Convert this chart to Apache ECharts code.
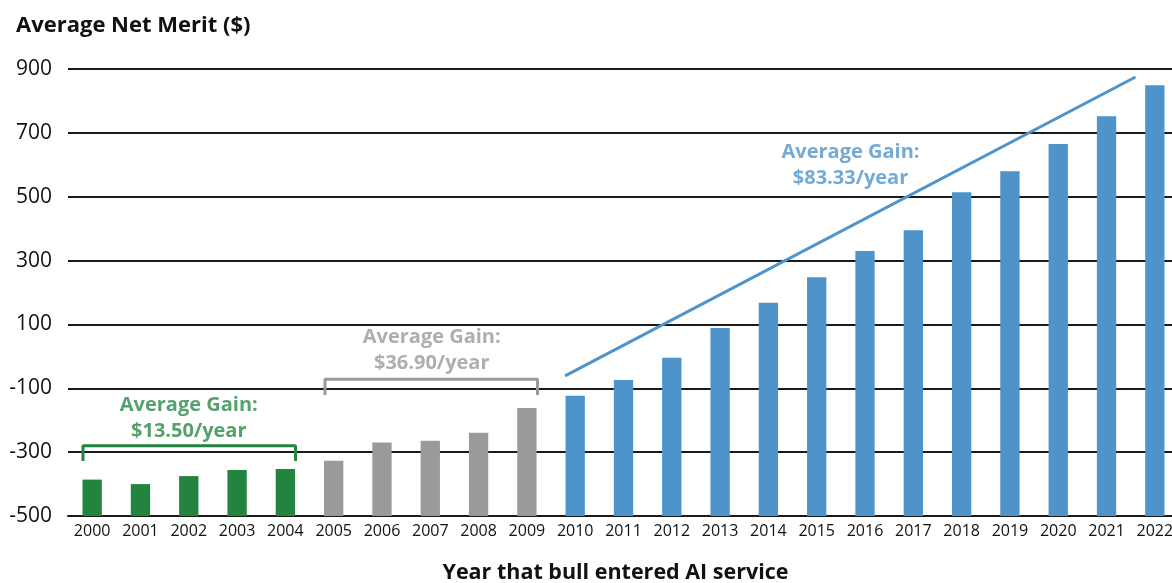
<!DOCTYPE html>
<html>
<head>
<meta charset="utf-8">
<script src="https://cdn.jsdelivr.net/npm/echarts@6/dist/echarts.min.js"></script>
<style>
  html, body { margin: 0; padding: 0; background: #fff; }
  #chart { width: 1172px; height: 583px; }
</style>
</head>
<body>
<div id="chart"></div>
<script>
// data
var years = ['2000','2001','2002','2003','2004','2005','2006','2007','2008','2009','2010',
             '2011','2012','2013','2014','2015','2016','2017','2018','2019','2020','2021','2022'];
var netMerit = [-386,-400,-375,-356,-353,-327,-270,-264,-239,-162,-123,
                -74,-4,89,168,248,330,395,514,580,665,752,849];
// which period each year belongs to (0 green, 1 gray, 2 blue)
var period = [0,0,0,0,0,1,1,1,1,1,2,2,2,2,2,2,2,2,2,2,2,2,2];
var yTicks = { min: -500, max: 900, step: 200 };
var gainLabels = ['Average Gain:\n$13.50/year', 'Average Gain:\n$36.90/year', 'Average Gain:\n$83.33/year'];

var colors = ['#23843f', '#9a9a9a', '#4e94cb'];
var textColors = ['#2a8a47', '#9a9a9a', '#4f95cb'];
var font = 'Open Sans';

var chart = echarts.init(document.getElementById('chart'));

// bars grow from the axis floor (-500), not from zero
function renderBar(params, api) {
  var i = api.value(0);
  var top = api.coord([i, api.value(1)]);
  var base = api.coord([i, yTicks.min]);
  var w = api.size([1, 0])[0] * 0.4;
  return {
    type: 'rect',
    shape: { x: top[0] - w / 2, y: top[1], width: w, height: base[1] - top[1] },
    style: { fill: colors[period[i]] }
  };
}

var barData = netMerit.map(function (v, i) { return [i, v]; });

// annotation geometry in data units (x = category index)
var brackets = [
  { p: 0, x0: -0.19, x1: 4.21, y: -280, foot: -328 },
  { p: 1, x0: 4.82, x1: 9.22, y: -72, foot: -121 }
];
var trend = [[9.79, -61], [21.6, 875]];
var labelPos = [[2.0, -193], [7.03, 20], [15.7, 599]];

var lineSeries = brackets.map(function (b) {
  return {
    type: 'line', xAxisIndex: 1, symbol: 'none', silent: true,
    lineStyle: { color: colors[b.p], width: 3 },
    data: [[b.x0, b.foot], [b.x0, b.y], [b.x1, b.y], [b.x1, b.foot]],
    z: 5
  };
});
lineSeries.push({
  type: 'line', xAxisIndex: 1, symbol: 'none', silent: true,
  lineStyle: { color: colors[2], width: 3 },
  data: trend, z: 5
});

var option = {
  animation: false,
  title: {
    text: 'Average Net Merit ($)',
    left: 11, top: 10,
    textStyle: { fontFamily: font, fontWeight: 'bold', fontSize: 22, color: '#111' }
  },
  grid: { left: 68, right: -7, top: 69, bottom: 67, outerBoundsMode: 'none' },
  xAxis: [{
    type: 'category',
    data: years,
    name: 'Year that bull entered AI service',
    nameLocation: 'middle',
    nameGap: 46,
    nameTextStyle: { fontFamily: font, fontWeight: 'bold', fontSize: 21.5, color: '#111', padding: [0, 16, 0, 0] },
    axisLine: { onZero: false, lineStyle: { color: '#1a1a1a', width: 2 } },
    axisTick: { show: false },
    axisLabel: { fontFamily: font, fontSize: 16, color: '#111', margin: 7 }
  }, {
    type: 'value', min: -0.5, max: 22.5, show: false
  }],
  yAxis: {
    type: 'value',
    min: yTicks.min, max: yTicks.max, interval: yTicks.step,
    axisLine: { show: false },
    axisTick: { show: false },
    splitLine: { lineStyle: { color: '#1a1a1a', width: 2 } },
    axisLabel: { fontFamily: font, fontSize: 21, color: '#111', margin: 16 }
  },
  series: [{
    type: 'custom',
    renderItem: renderBar,
    data: barData,
    encode: { x: 0, y: 1 },
    z: 3
  }].concat(lineSeries).concat([{
    type: 'scatter', xAxisIndex: 1, symbolSize: 0, silent: true,
    data: labelPos.map(function (p, i) {
      return {
        value: p,
        label: {
          show: true, position: 'inside',
          formatter: gainLabels[i],
          fontFamily: font, fontWeight: 'bold', fontSize: 20,
          lineHeight: 26, align: 'center',
          color: textColors[i]
        }
      };
    }),
    z: 6
  }])
};

chart.setOption(option);
</script>
</body>
</html>
